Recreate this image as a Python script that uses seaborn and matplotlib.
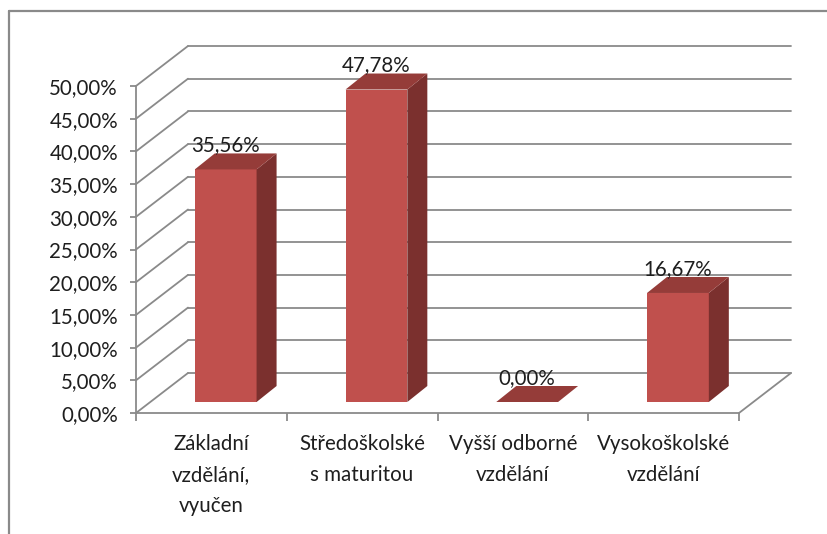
import matplotlib
matplotlib.use('Agg')
import matplotlib.pyplot as plt
import matplotlib.ticker as mticker
from matplotlib.lines import Line2D
from matplotlib.patches import Polygon
import seaborn as sns

# ---------------------------------------------------------------------------
# Data
# ---------------------------------------------------------------------------
categories = ["Základní\nvzdělání,\nvyučen", "Středoškolské\ns maturitou",
              "Vyšší odborné\nvzdělání", "Vysokoškolské\nvzdělání"]
shares = [35.56, 47.78, 0.00, 16.67]
y_ticks = [0, 5, 10, 15, 20, 25, 30, 35, 40, 45, 50]

# ---------------------------------------------------------------------------
# Style
# ---------------------------------------------------------------------------
sns.set_style('white')
plt.rcParams['font.family'] = ['Lato', 'DejaVu Sans']
plt.rcParams['font.size'] = 14.8

FRONT = '#C0504D'
TOP = '#953C39'
SIDE = '#7B302E'
GRID = '#8A8A8A'
TEXT = '#1E1E1E'

W, H = 827, 534
fig = plt.figure(figsize=(W / 100, H / 100), dpi=100)
fig.patch.set_facecolor('white')

# front plane of the 3D box (pixels)
x_left, x_right, y_base, y_top = 136, 739, 413, 86
ax = fig.add_axes([x_left / W, (H - y_base) / H, (x_right - x_left) / W, (y_base - y_top) / H])
ax.set_xlim(-0.5, 3.5)
ax.set_ylim(0, 50)
ax.set_facecolor('none')

# pixel -> data scale, used for the fake depth
sx = ax.transData.transform((1, 0))[0] - ax.transData.transform((0, 0))[0]
sy = ax.transData.transform((0, 1))[1] - ax.transData.transform((0, 0))[1]
DX, DY = 52 / sx, 40 / sy              # full depth of the box
BX, BY = 0.275 * DX, 0.275 * DY        # bar front plane
PX, PY = 20 / sx, 16 / sy              # bar depth

# walls / floor
for t in y_ticks:
    ax.plot([-0.5 + DX, 3.5 + DX], [t + DY, t + DY], color=GRID, lw=1.3, clip_on=False, zorder=1)
    ax.plot([-0.5, -0.5 + DX], [t, t + DY], color=GRID, lw=1.3, clip_on=False, zorder=1)
ax.plot([3.5, 3.5 + DX], [0, DY], color=GRID, lw=1.3, clip_on=False, zorder=1)

# bars (front faces)
sns.barplot(x=list(range(len(categories))), y=shares, ax=ax, color=FRONT,
            saturation=1, width=0.41, linewidth=0, zorder=3, native_scale=True)

for patch, v in zip(ax.patches, shares):
    x0 = patch.get_x() + BX
    w = patch.get_width()
    patch.set_x(x0)
    patch.set_y(BY)
    patch.set_clip_on(False)
    top = v + BY
    side = Polygon([(x0 + w, BY), (x0 + w, top), (x0 + w + PX, top + PY), (x0 + w + PX, BY + PY)],
                   closed=True, facecolor=SIDE, edgecolor='none', zorder=3, clip_on=False)
    lid = Polygon([(x0, top), (x0 + w, top), (x0 + w + PX, top + PY), (x0 + PX, top + PY)],
                  closed=True, facecolor=TOP, edgecolor='none', zorder=3, clip_on=False)
    ax.add_patch(side)
    ax.add_patch(lid)
    ax.annotate(f'{v:.2f}'.replace('.', ',') + '%', xy=(x0 + w / 2, top), xytext=(0, 24),
                textcoords='offset pixels', ha='center', va='center', color=TEXT,
                zorder=5, annotation_clip=False)

# axes
for s in ['top', 'right']:
    ax.spines[s].set_visible(False)
for s in ['left', 'bottom']:
    ax.spines[s].set_color(GRID)
    ax.spines[s].set_linewidth(1.3)
    ax.spines[s].set_zorder(2)

ax.set_yticks(y_ticks)
ax.yaxis.set_major_formatter(mticker.FuncFormatter(lambda v, p: f'{v:.2f}'.replace('.', ',') + '%'))
ax.tick_params(axis='y', direction='out', length=4, width=1.3, color=GRID, pad=9, labelcolor=TEXT, left=True)

ax.set_xticks([-0.5, 0.5, 1.5, 2.5, 3.5])
ax.set_xticklabels([])
ax.set_xticks(range(len(categories)), minor=True)
ax.set_xticklabels(categories, minor=True, linespacing=1.68)
ax.tick_params(axis='x', which='major', direction='out', length=6, width=1.3, color=GRID, bottom=True)
ax.tick_params(axis='x', which='minor', length=0, pad=15, labelcolor=TEXT)
ax.set_xlabel('')
ax.set_ylabel('')

# chart border (partially visible in the reference)
fig.add_artist(Line2D([9 / W, 1], [1 - 11 / H, 1 - 11 / H], color=GRID, lw=1.6, transform=fig.transFigure))
fig.add_artist(Line2D([9 / W, 9 / W], [0, 1 - 11 / H], color=GRID, lw=1.6, transform=fig.transFigure))

fig.savefig('out.png', dpi=100, facecolor='white')
